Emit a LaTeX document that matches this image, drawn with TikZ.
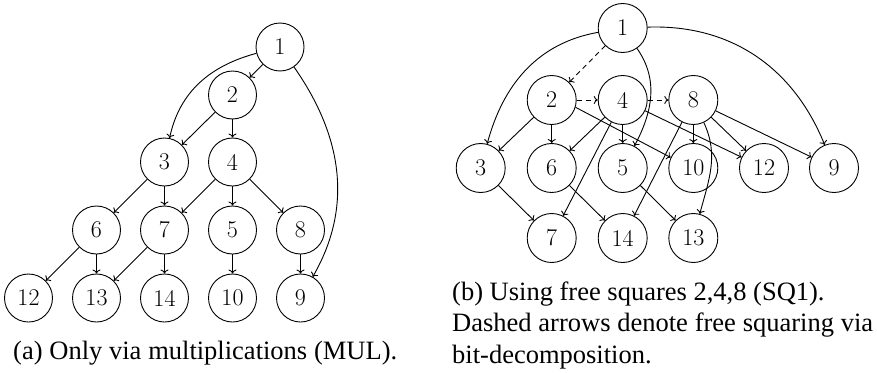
\documentclass[tikz,border=0pt]{standalone}
\usepackage{fontspec}
\newfontfamily\capfont{Liberation Serif}
\usetikzlibrary{arrows.meta}
\begin{document}
\begin{tikzpicture}[x=1pt,y=1pt,
  vtx/.style={draw,circle,line width=0.9pt,inner sep=0pt,minimum size=#1,font=\fontsize{24}{28}\selectfont},
  vtx/.default=48pt,
  arr/.style={line width=0.9pt,-{To[length=4pt,width=8pt]}},
  darr/.style={arr,dash pattern=on 5pt off 4pt},
  captext/.style={font=\capfont\fontsize{26.5}{31.5}\selectfont,inner sep=0pt}]
\useasboundingbox (0,0) rectangle (877,-372);
% (a)
\node[vtx] (a1) at (280,-47) {1};
\node[vtx] (a2) at (232.5,-95) {2};
\node[vtx] (a3) at (164.5,-162) {3};
\node[vtx] (a4) at (232.5,-162) {4};
\node[vtx] (a6) at (96.5,-230) {6};
\node[vtx] (a7) at (164.5,-230) {7};
\node[vtx] (a5) at (232.5,-230) {5};
\node[vtx] (a8) at (300.5,-230) {8};
\node[vtx] (a12) at (28.5,-298) {12};
\node[vtx] (a13) at (96.5,-298) {13};
\node[vtx] (a14) at (164.5,-298) {14};
\node[vtx] (a10) at (232.5,-298) {10};
\node[vtx] (a9) at (300.5,-298) {9};
\draw[arr] (a1) -- (a2);
\draw[arr] (a1) to[out=195,in=78] (a3);
\draw[arr] (a1) to[out=-55,in=60] (a9);
\draw[arr] (a2) -- (a3);
\draw[arr] (a2) -- (a4);
\draw[arr] (a3) -- (a6);
\draw[arr] (a3) -- (a7);
\draw[arr] (a4) -- (a7);
\draw[arr] (a4) -- (a5);
\draw[arr] (a4) -- (a8);
\draw[arr] (a6) -- (a12);
\draw[arr] (a6) -- (a13);
\draw[arr] (a7) -- (a13);
\draw[arr] (a7) -- (a14);
\draw[arr] (a5) -- (a10);
\draw[arr] (a8) -- (a9);
\node[captext,anchor=base west] (capa) at (13,-359) {\makebox[384pt][s]{(a) Only via multiplications (MUL).}};
% (b)
\node[vtx=49pt] (b1) at (622.7,-28) {1};
\node[vtx=49pt] (b2) at (551.7,-100) {2};
\node[vtx=49pt] (b4) at (622.7,-100) {4};
\node[vtx=49pt] (b8) at (693.3,-100) {8};
\node[vtx=49pt] (b3) at (480.7,-168) {3};
\node[vtx=49pt] (b6) at (551.7,-168) {6};
\node[vtx=49pt] (b5) at (622.7,-168) {5};
\node[vtx=49pt] (b10) at (693.3,-168) {10};
\node[vtx=49pt] (b12) at (764,-168) {12};
\node[vtx=49pt] (b9) at (834,-168) {9};
\node[vtx=49pt] (b7) at (551.7,-238) {7};
\node[vtx=49pt] (b14) at (622.7,-238) {14};
\node[vtx=49pt] (b13) at (693.3,-238) {13};
\draw[darr] (b1) -- (b2);
\draw[darr] (b2) -- (b4);
\draw[darr] (b4) -- (b8);
\draw[arr] (b1) to[out=190,in=75] (b3);
\draw[arr] (b1) to[out=-55,in=62] (b5);
\draw[arr] (b1) to[out=2,in=112] (b9);
\draw[arr] (b2) -- (b3);
\draw[arr] (b2) -- (b6);
\draw[arr] (b2.-17) -- (b10.155);
\draw[arr] (b4) -- (b6);
\draw[arr] (b4) -- (b7);
\draw[arr] (b4) -- (b5);
\draw[arr] (b4) -- (b12);
\draw[arr] (b8) -- (b14);
\draw[arr] (b8) -- (b10);
\draw[arr] (b8) to[out=-65,in=75] (b13);
\draw[arr] (b8) -- (b12);
\draw[arr] (b8) -- (b9);
\draw[arr] (b3) -- (b7);
\draw[arr] (b6) -- (b14);
\draw[arr] (b5) -- (b13);
\node[captext,anchor=base west,text width=421pt,align=justify] (capb) at (452,-300) {(b) Using free squares 2,4,8 (SQ1).\\Dashed arrows denote free squaring via bit-decomposition.};
\end{tikzpicture}
\end{document}
